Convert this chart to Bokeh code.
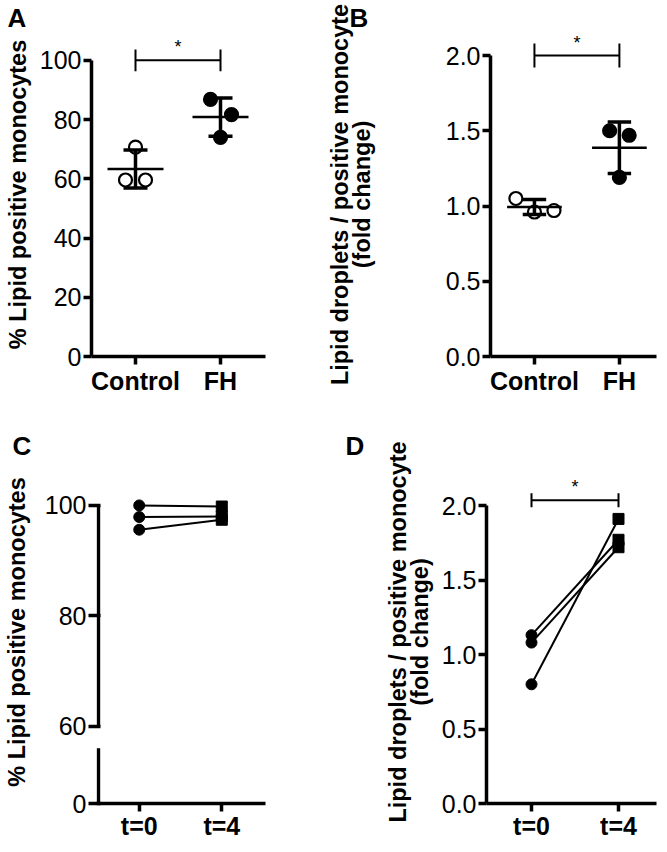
import numpy as np
from bokeh.plotting import figure
from bokeh.models import Range1d, FixedTicker, PrintfTickFormatter
from bokeh.layouts import row, column
from bokeh.embed import file_html
from bokeh.resources import INLINE
from bokeh.core.properties import value

# ---------------- data ----------------
ab_categories = ["Control", "FH"]
a_control = [70.7, 59.6, 59.6]
a_fh = [86.8, 81.7, 74.0]
a_yticks = [0, 20, 40, 60, 80, 100]
a_sig_y = 100

b_control = [1.05, 0.96, 0.97]
b_fh = [1.50, 1.47, 1.19]
b_yticks = [0.0, 0.5, 1.0, 1.5, 2.0]
b_sig_y = 2.0

cd_categories = ["t=0", "t=4"]
c_t0 = [100.0, 97.9, 95.6]
c_t4 = [99.8, 98.0, 97.4]
c_yticks = [60, 80, 100]
c_low_tick = 0

d_t0 = [1.13, 1.08, 0.80]
d_t4 = [1.77, 1.72, 1.91]
d_yticks = [0.0, 0.5, 1.0, 1.5, 2.0]
d_sig_y = 2.035

label_pct = "% Lipid positive monocytes"
label_fold = "Lipid droplets / positive monocyte\n(fold change)"
panel_letters = ["A", "B", "C", "D"]

# ---------------- styling ----------------
FONT = "Liberation Sans"
BLACK = "black"


def make_fig(w, h, left, right, top, bottom, x_px, x_first_px, y_px, y0, cats,
             letter, letter_dx):
    fw = w - left - right
    fh = h - top - bottom
    xs = 1 - x_first_px / x_px
    p = figure(width=w, height=h,
               x_range=Range1d(xs, xs + fw / x_px),
               y_range=Range1d(y0, y0 + fh / y_px),
               output_backend="svg", toolbar_location=None,
               min_border_left=left, min_border_right=right,
               min_border_top=top, min_border_bottom=bottom)
    p.outline_line_color = None
    p.grid.visible = False
    p.background_fill_color = "white"
    p.border_fill_color = "white"
    p.title.text = letter
    p.title.align = "left"
    p.title.offset = letter_dx
    p.title.standoff = 0
    p.title.text_font = FONT
    p.title.text_font_size = "26px"
    p.title.text_font_style = "bold"
    p.title.text_color = BLACK
    for ax in p.axis:
        ax.axis_line_width = 3.5
        ax.axis_line_color = BLACK
        ax.major_tick_line_width = 3.5
        ax.major_tick_line_color = BLACK
        ax.major_tick_out = 8
        ax.major_tick_in = 0
        ax.minor_tick_line_color = None
        ax.major_label_text_font = FONT
        ax.major_label_text_color = BLACK
        ax.axis_label_text_font = FONT
        ax.axis_label_text_font_style = "bold"
        ax.axis_label_text_font_size = "23.5px"
        ax.axis_label_text_line_height = 0.85
        ax.axis_label_text_color = BLACK
    p.yaxis.major_label_text_font_size = "25px"
    p.yaxis.major_label_standoff = 2
    p.xaxis.major_label_text_font_size = "25px"
    p.xaxis.major_label_text_font_style = "bold"
    p.xaxis.major_label_standoff = 2
    pos = [i + 1 for i in range(len(cats))]
    p.xaxis.ticker = FixedTicker(ticks=pos)
    p.xaxis.major_label_overrides = {k: c for k, c in zip(pos, cats)}
    return p


def dot_sd(p, xc, vals, jit_px, x_px, filled, size=13):
    xs = [xc + j / x_px for j in jit_px]
    p.scatter(xs, vals, marker="circle", size=size,
              fill_color=BLACK if filled else "white",
              line_color=BLACK, line_width=2.2)
    m = float(np.mean(vals))
    s = float(np.std(vals, ddof=1))
    p.segment(x0=[xc - 28 / x_px], x1=[xc + 28 / x_px], y0=[m], y1=[m],
              line_color=BLACK, line_width=2.5)
    p.segment(x0=[xc], x1=[xc], y0=[m - s], y1=[m + s],
              line_color=BLACK, line_width=3.5)
    p.segment(x0=[xc - 12 / x_px] * 2, x1=[xc + 12 / x_px] * 2,
              y0=[m - s, m + s], y1=[m - s, m + s],
              line_color=BLACK, line_width=3.5)


def sig(p, y, cap_px, y_px, star_off=3):
    p.segment(x0=[1], x1=[2], y0=[y], y1=[y], line_color=BLACK, line_width=2)
    p.segment(x0=[1, 2], x1=[1, 2], y0=[y - cap_px / y_px] * 2,
              y1=[y + cap_px / y_px] * 2, line_color=BLACK, line_width=2)
    p.text(x=[1.5], y=[y], text=["*"], text_align="center",
           text_baseline="bottom", y_offset=-star_off,
           text_font=value(FONT), text_font_size="18px", text_color=BLACK)


def paired(p, t0, t4, size=11):
    xs = [[1, 2] for _ in t0]
    ys = [[a, b] for a, b in zip(t0, t4)]
    p.multi_line(xs, ys, line_color=BLACK, line_width=2)
    p.scatter([1] * len(t0), t0, marker="circle", size=size,
              fill_color=BLACK, line_color=BLACK)
    p.scatter([2] * len(t4), t4, marker="square", size=size,
              fill_color=BLACK, line_color=BLACK)


# ---------------- panel A ----------------
A_XPX, A_YPX = 85, 2.98
pA = make_fig(323, 420, 91, 58, 32, 62, A_XPX, 44, A_YPX, 0, ab_categories,
              panel_letters[0], -84)
pA.yaxis.ticker = FixedTicker(ticks=a_yticks)
pA.yaxis.bounds = (a_yticks[0], a_yticks[-1])
pA.yaxis.axis_label = label_pct
pA.yaxis.axis_label_standoff = 6
dot_sd(pA, 1, a_control, [0, -10, 10], A_XPX, False)
dot_sd(pA, 2, a_fh, [-10, 11, 0], A_XPX, True)
sig(pA, a_sig_y, 11, A_YPX)

# ---------------- panel B ----------------
B_XPX, B_YPX = 87, 150.5
pB = make_fig(343, 420, 163, 10, 32, 64, B_XPX, 45, B_YPX, 0, ab_categories,
              panel_letters[1], -141)
pB.yaxis.ticker = FixedTicker(ticks=b_yticks)
pB.yaxis.formatter = PrintfTickFormatter(format="%.1f")
pB.yaxis.bounds = (b_yticks[0], b_yticks[-1])
pB.yaxis.axis_label = label_fold
pB.yaxis.axis_label_standoff = 68
dot_sd(pB, 1, b_control, [-19, 0, 20], B_XPX, False)
dot_sd(pB, 2, b_fh, [-10, 10, 0], B_XPX, True)
sig(pB, b_sig_y, 12, B_YPX)

# ---------------- panel C (broken axis) ----------------
C_XPX, C_YPX = 85, 5.52
C_ZERO_POS = 46   # display position of the "0" tick below the axis break
C_LOW_TOP = 56    # top of the short lower axis segment
pC = make_fig(333, 430, 91, 68, 40, 47, C_XPX, 44, C_YPX, C_ZERO_POS,
              cd_categories, panel_letters[2], -84)
pC.yaxis.ticker = FixedTicker(ticks=[C_ZERO_POS] + c_yticks)
pC.yaxis.major_label_overrides = {C_ZERO_POS: str(c_low_tick)}
pC.yaxis.axis_line_color = None
pC.yaxis.major_tick_in = 4
pC.yaxis.axis_label = label_pct
pC.yaxis.axis_label_standoff = 12
pC.xaxis.major_label_standoff = 0
ax_x = pC.x_range.start + 2 / C_XPX
pC.segment(x0=[ax_x, ax_x], x1=[ax_x, ax_x],
           y0=[C_ZERO_POS, c_yticks[0]], y1=[C_LOW_TOP, c_yticks[-1]],
           line_color=BLACK, line_width=3.5)
paired(pC, c_t0, c_t4)

# ---------------- panel D ----------------
D_XPX, D_YPX = 87, 149
pD = make_fig(333, 430, 153, 10, 40, 47, D_XPX, 45, D_YPX, 0, cd_categories,
              panel_letters[3], -141)
pD.yaxis.ticker = FixedTicker(ticks=d_yticks)
pD.yaxis.formatter = PrintfTickFormatter(format="%.1f")
pD.yaxis.bounds = (d_yticks[0], d_yticks[-1])
pD.yaxis.axis_label = label_fold
pD.yaxis.axis_label_standoff = 6
pD.xaxis.major_label_standoff = 0
paired(pD, d_t0, d_t4)
sig(pD, d_sig_y, 7, D_YPX)

layout = column(row(pA, pB), row(pC, pD))
open("out.html", "w").write(file_html(layout, INLINE))
